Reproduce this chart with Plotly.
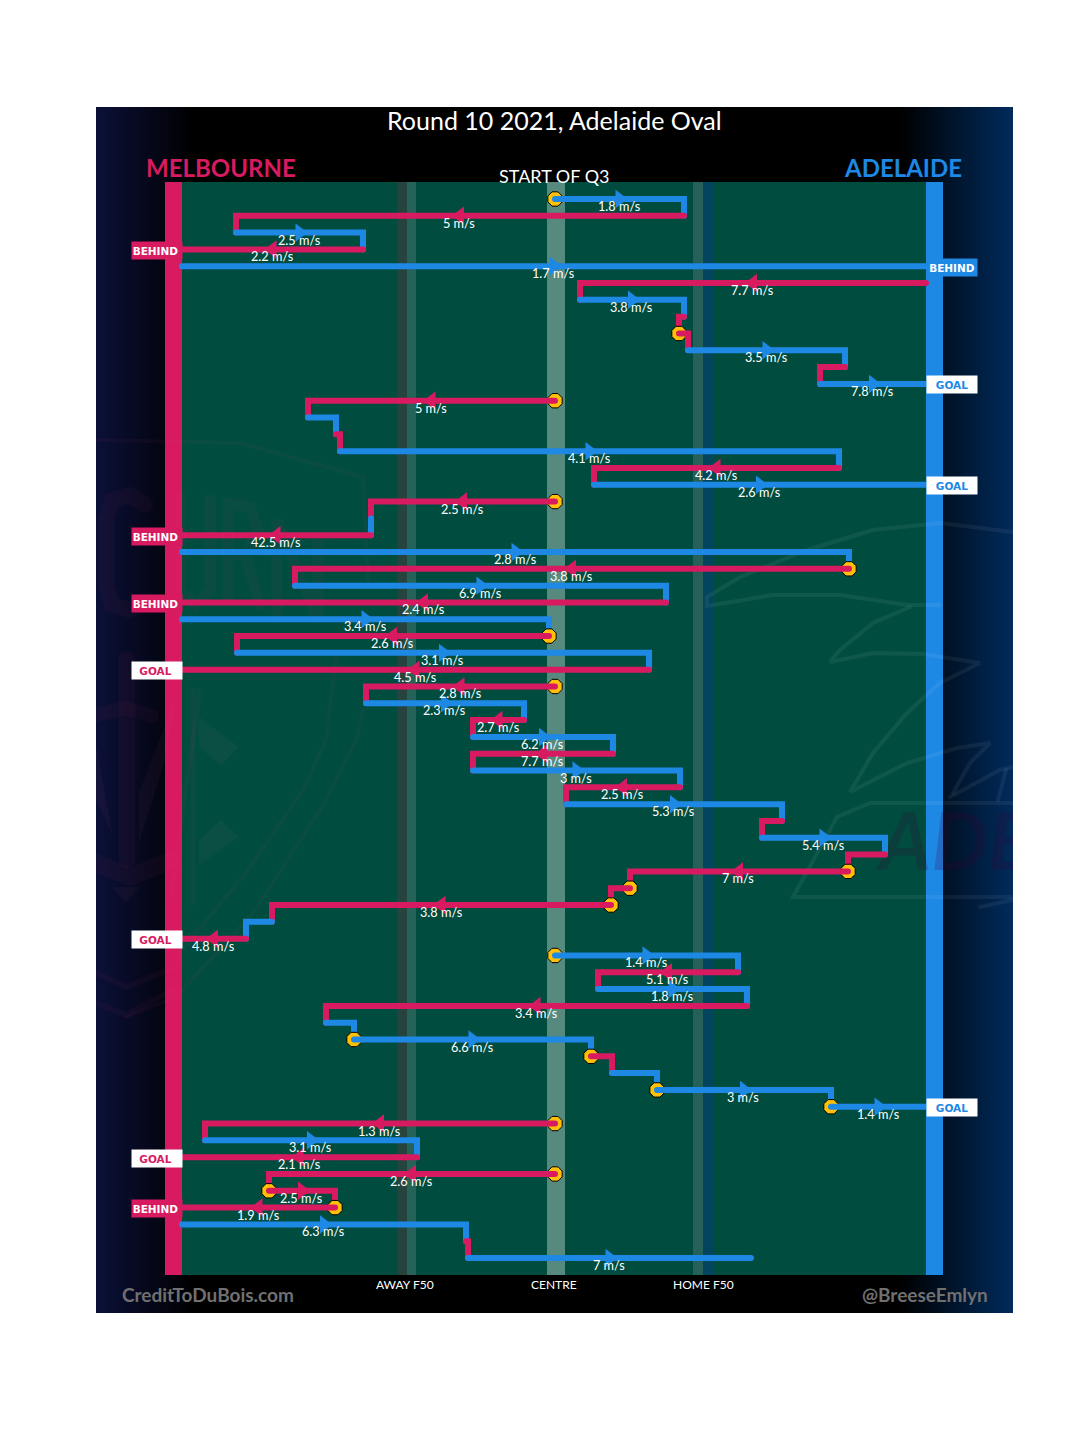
import plotly.graph_objects as go

# Field position: 0 = Melbourne goal line, 744 = Adelaide goal line
teams = ["A","M","A","M","A","M","A","M","M","A","M","A","M","A","M","A","M","A","M","A","M","A","M","A","M","A","M","A","M","M","A","M","A","M","A","M","A","M","A","M","M","M","M","A","M","A","M","A","M","A","A","M","A","A","A","M","A","M","M","M","M","A","M","A"]
x_from = [373,502,54,181,0,744,398,502,497,506,663,638,373,126,154,158,657,412,373,189,189,0,667,113,484,0,367,55,467,373,184,342,291,431,291,498,384,600,580,703,666,448,429,90,64,373,556,416,565,144,172,409,430,475,649,373,23,235,373,87,153,0,284,286]
x_to =   [502,54,181,0,744,398,502,497,506,663,638,744,126,154,158,657,412,744,189,189,0,667,113,484,0,367,55,467,0,184,342,291,431,291,498,384,600,580,703,666,448,429,90,64,0,556,416,565,144,172,409,430,475,649,744,23,235,0,87,153,0,284,286,569]
speeds = ["1.8","5","2.5","2.2","1.7","7.7","3.8",None,None,"3.5",None,"7.8","5",None,None,"4.1","4.2","2.6","2.5",None,"42.5","2.8","3.8","6.9","2.4","3.4","2.6","3.1","4.5","2.8","2.3","2.7","6.2","7.7","3","2.5","5.3",None,"5.4",None,"7",None,"3.8",None,"4.8","1.4","5.1","1.8","3.4",None,"6.6",None,None,"3","1.4","1.3","3.1","2.1","2.6","2.5","1.9","6.3",None,"7"]
stoppages = [0,8,12,18,22,26,29,40,41,42,45,50,51,53,54,55,58,59,60]
outcomes = {3:"BEHIND",4:"BEHIND",11:"GOAL",17:"GOAL",20:"BEHIND",24:"BEHIND",28:"GOAL",44:"GOAL",54:"GOAL",57:"GOAL",60:"BEHIND"}
axis_labels = ["AWAY F50","CENTRE","HOME F50"]
axis_label_x = [223,372,521]

PINK, BLUE, GREEN = "#d81b60", "#1e88e5", "#004d40"
COL = {"M": PINK, "A": BLUE}
FONT = "Lato"
XR = [-86, 831]
YR = [66.27, -5.473]
R_TOP, R_BOT = -1.01, 64.01

# Faint club-logo watermarks (decoration), traced as page-pixel outlines
CROW_LINES = [
    [(1013,532),(940,523),(873,530),(807,550),(740,577),(707,597),(707,606),(773,595),(840,595),(907,605),(940,605)],
    [(910,607),(873,623),(840,650),(830,662),(873,653),(923,654),(980,663),(940,683),(907,713),(873,753),(850,792),(907,763),(957,748),(990,743),(970,763),(953,793)],
    [(950,797),(1000,770),(1013,767)],
    [(998,800),(1006,770)],
    [(1013,803),(870,803),(837,817),(793,897),(1013,897)],
    [(980,907),(1013,900)],
]
DEMON_LINES = [
    ([(96,440),(240,443),(363,477),(368,580)], 4),
    ([(336,657),(326,740),(303,790),(246,873),(179,953)], 4),
    ([(363,710),(356,740),(322,807),(253,913),(176,997),(126,1017)], 4),
    ([(145,505),(130,495),(112,500),(106,520),(106,585),(112,605),(130,610),(148,600)], 16),
    ([(180,497),(180,590),(195,605),(210,590),(210,500)], 11),
    ([(228,600),(228,503),(250,507),(258,530),(245,555),(228,555),(245,555),(260,605)], 11),
    ([(277,612),(277,520),(318,620),(318,540)], 11),
    ([(127,660),(127,860)], 17),
    ([(96,715),(125,708),(152,716)], 14),
    ([(96,863),(130,877),(172,860)], 18),
    ([(96,973),(126,987),(176,967)], 6),
    ([(96,1003),(126,1015),(173,990)], 6),
    ([(193,690),(193,903)], 5),
    ([(200,690),(170,900)], 5),
]
DEMON_SHAPES = [
    [(199,717),(239,747),(221,765),(199,747)],
    [(199,840),(221,820),(239,837),(199,865)],
    [(111,887),(141,887),(126,902)],
    [(96,745),(113,836),(96,800)],
    [(139,843),(139,793),(176,697),(165,760)],
]

def px(pts):
    return [p[0] - 182 for p in pts], [(p[1] - 199) / 16.81 for p in pts]

fig = go.Figure()

def rect(x0, x1, y0, y1, color=None, grad=None):
    kw = dict(fillcolor=color) if color else dict(fillgradient=grad)
    fig.add_trace(go.Scatter(x=[x0,x1,x1,x0,x0], y=[y0,y0,y1,y1,y0], mode="none", fill="toself", hoverinfo="skip", **kw))

rect(-86, 14, YR[1], YR[0], grad=dict(type="horizontal", colorscale=[[0,"#0b1038"],[1,"#000000"]]))
rect(718, 831, YR[1], YR[0], grad=dict(type="horizontal", colorscale=[[0,"#000000"],[1,"#002b5c"]]))
rect(0, 744, R_TOP, R_BOT, GREEN)
rect(-17, 0, R_TOP, R_BOT, PINK)
rect(744, 761, R_TOP, R_BOT, BLUE)
rect(215, 225, R_TOP, R_BOT, "#26443d")
rect(225, 234, R_TOP, R_BOT, "#24625a")
rect(365, 383, R_TOP, R_BOT, "#568a7f")
rect(511, 521, R_TOP, R_BOT, "#26605a")
rect(521, 531, R_TOP, R_BOT, "#03455c")

for pts in CROW_LINES:
    x, y = px(pts)
    fig.add_trace(go.Scatter(x=x, y=y, mode="lines", hoverinfo="skip", line=dict(color="rgba(255,255,255,0.06)", width=4)))
for pts, w in DEMON_LINES:
    x, y = px(pts)
    fig.add_trace(go.Scatter(x=x, y=y, mode="lines", hoverinfo="skip", line=dict(color="rgba(225,60,110,0.05)", width=w)))
for pts in DEMON_SHAPES:
    x, y = px(pts + pts[:1])
    fig.add_trace(go.Scatter(x=x, y=y, mode="none", fill="toself", hoverinfo="skip", fillcolor="rgba(225,90,130,0.05)"))
x, y = px([(955,850)])
fig.add_trace(go.Scatter(x=x, y=y, mode="text", text=["<b><i>ADE</i></b>"], textposition="middle center", hoverinfo="skip",
                         cliponaxis=True, textfont=dict(family=FONT, size=80, color="rgba(60,0,50,0.2)")))

ann = []
def text(x, y, s, size, color, **kw):
    ann.append(dict(x=x, y=y, text=s, showarrow=False, font=dict(family=kw.pop("family", FONT), size=size, color=color), **kw))

for i, team in enumerate(teams):
    c = COL[team]
    if i in stoppages:
        fig.add_trace(go.Scatter(x=[x_from[i]], y=[i], mode="markers", hoverinfo="skip",
                                 marker=dict(symbol="octagon", size=15.5, color="#ffc107", line=dict(color="black", width=1))))
    xs, ys = [x_from[i], x_to[i]], [i, i]
    if i not in outcomes and i < len(teams) - 1:
        xs.append(x_to[i]); ys.append(i + 1)
    fig.add_trace(go.Scatter(x=xs, y=ys, mode="lines", hoverinfo="skip", line=dict(color=c, width=6)))
    mid = (x_from[i] + x_to[i]) / 2
    if speeds[i] is not None:
        sym = "triangle-right" if x_to[i] > x_from[i] else "triangle-left"
        fig.add_trace(go.Scatter(x=[mid], y=[i], mode="markers", hoverinfo="skip",
                                 marker=dict(symbol=sym, size=16, color=c)))
        text(mid, i, speeds[i] + " m/s", 12.7, "white", yshift=-7, xshift=-1)
    if i in outcomes:
        left = team == "M"
        goal = outcomes[i] == "GOAL"
        ann.append(dict(x=-25 if left else 770, y=i, yshift=-1, text="<b>%s</b>%s" % (outcomes[i], "&nbsp;" if left else ""), showarrow=False,
                        width=50, height=17, borderpad=0, align="center",
                        bgcolor="white" if goal else c,
                        font=dict(family="DejaVu Sans", size=10.5, color=c if goal else "white")))

text(372, -4.7, "Round 10 2021, Adelaide Oval", 25, "white")
text(39, -1.9, "<b>MELBOURNE</b>", 24, PINK)
text(721, -1.9, "<b>ADELAIDE</b>", 24, BLUE)
text(372, -1.37, "START OF Q3", 18, "white")
for lx, lb in zip(axis_label_x, axis_labels):
    text(lx, 64.6, lb, 12, "white")
text(26, 65.14, "<b>CreditToDuBois.com</b>", 19, "#707070")
text(743, 65.14, "<b>@BreeseEmlyn</b>", 19, "#707070")

fig.update_layout(
    width=1080, height=1435, showlegend=False, paper_bgcolor="white", plot_bgcolor="black",
    margin=dict(l=96, r=67, t=107, b=122),
    xaxis=dict(range=XR, visible=False), yaxis=dict(range=YR, visible=False),
    annotations=ann,
)
css = "document.body.style.margin='0';document.body.style.overflow='hidden';"
css += "document.head.insertAdjacentHTML('beforeend','<style>.js-line{stroke-linecap:round}</style>');"
fig.write_html("out.html", post_script=css, config={"displayModeBar": False})
